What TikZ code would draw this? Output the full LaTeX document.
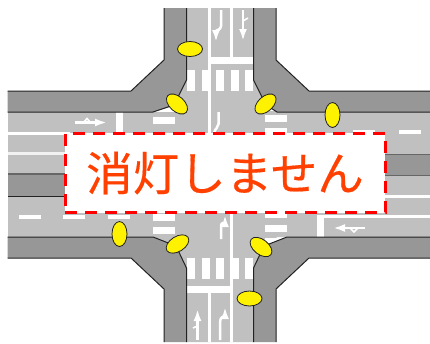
\documentclass[tikz,border=0pt]{standalone}
\usepackage{fontspec}
\usetikzlibrary{
	arrows.meta,
	shapes.geometric
}
\newfontfamily\cjk[FakeBold=0.35]{Noto Sans CJK JP}
\definecolor{roadgray}{HTML}{C0C0C0}
\definecolor{walkgray}{HTML}{979797}
\definecolor{edgegray}{HTML}{222222}
\definecolor{msgred}{HTML}{FF4000}

\begin{document}
\begin{tikzpicture}[
	x=1pt, y=-1pt,
	>={Latex[length=12pt, width=8pt]},
	walk/.style={fill=walkgray},
	curb/.style={draw=edgegray, line width=1pt},
	paint/.style={draw=white, line width=3pt},
	arrowline/.style={draw=white, line width=2.5pt},
	bar/.style={fill=white},
	lamp/.style={ellipse, draw=edgegray, line width=.8pt, fill=yellow, inner sep=0,
		minimum width=25pt, minimum height=15pt}
]
	\useasboundingbox (0,0) rectangle (430,343);

	% road
	\fill[roadgray] (186.5,8) -- (186.5,80) -- (153,112) -- (8,112) -- (8,237) -- (153,237)
		-- (186.5,268) -- (186.5,342) -- (253.5,342) -- (253.5,268) -- (277,237) -- (430,237)
		-- (430,112) -- (277,112) -- (253.5,80) -- (253.5,8) -- cycle;

	% median
	\fill[walk] (8,174) rectangle (70,196);
	\draw[curb, draw=gray!80!black, line width=1.4pt] (8,174) -- (70,174);
	\draw[curb] (8,196) -- (70,196);
	\fill[walk] (380,154) rectangle (430,175);
	\draw[curb, draw=gray!80!black] (380,154) -- (430,154);
	\draw[curb, draw=gray!80!black] (380,175) -- (430,175);

	% lane lines
	\draw[paint] (8,133) -- (70,133);
	\draw[paint, draw=white!90!gray] (8,153) -- (70,153);
	\draw[paint] (380,196) -- (430,196);
	\draw[paint] (317,216) -- (430,216);
	\draw[paint, line width=7pt] (119.5,112) -- (119.5,134);
	\draw[paint, line width=7pt] (320.5,215) -- (320.5,237);
	\draw[paint] (209,8) -- (209,135);
	\draw[paint] (231.5,8) -- (231.5,58);
	\draw[paint, line width=7pt] (207.5,60.5) -- (253.5,60.5);
	\draw[paint] (231.5,210) -- (231.5,342);
	\draw[paint, line width=7pt] (186.5,289.5) -- (233,289.5);
	\draw[paint] (209,290) -- (209,342);

	% crosswalks
	\foreach \x in {187,201.5,216,230.5,245} {
		\fill[bar] (\x,70) rectangle ++(8,21);
		\fill[bar] (\x,258) rectangle ++(8,21);
	}
	\foreach \y in {105,117} \fill[bar] (153,\y) rectangle ++(22,7);
	\foreach \y in {214,227} \fill[bar] (153,\y) rectangle ++(22,7);
	\foreach \y in {104,115,128} \fill[bar] (265,\y) rectangle ++(22,7);
	\foreach \y in {211,225,238} \fill[bar] (265,\y) rectangle ++(22,7);

	% dashes
	\foreach \x in {19,63,108} \fill[bar] (\x,215) rectangle ++(22,3.5);
	\foreach \x in {353,399} \fill[bar] (\x,130) rectangle ++(22,3.5);

	% arrows
	\draw[arrowline, ->] (75,122.5) -- (107,122.5);
	\draw[arrowline, line width=1.6pt] (84,122) -- (87,118.5) -- (90,122);
	\draw[arrowline, ->] (365,228) -- (333,228);
	\draw[arrowline, line width=1.6pt] (350,228) -- (354,232) -- (358,228);
	\draw[arrowline, ->] (221,10) -- (221,26) .. controls (221,30) and (216,30) .. (216,42);
	\draw[arrowline, ->] (243,10) -- (243,41);
	\draw[arrowline, line width=1.6pt] (243,21) -- (248,18);
	\draw[arrowline] (218.5,112) -- (218.5,124) .. controls (218.5,128) and (215,128) .. (214,133);
	\draw[arrowline, ->] (197.5,340) -- (197.5,309);
	\draw[arrowline, line width=1.6pt] (197.5,326) -- (193,328);
	\draw[arrowline, ->] (220,340) -- (220,322) .. controls (220,316) and (225,316) .. (225,307);
	\draw[arrowline, ->] (221,239) -- (221,226) .. controls (221,222) and (225,222) .. (225,215);

	% sidewalks
	\fill[walk] (7.5,91) -- (131,91) -- (164,60) -- (164,8) -- (186.5,8) -- (186.5,80)
		-- (174,105) -- (153,112) -- (7.5,112) -- cycle;
	\draw[curb] (7.5,91) -- (131,91) -- (164,60) -- (164,8);
	\draw[curb] (186.5,8) -- (186.5,80) -- (174,105) -- (153,112) -- (7.5,112);
	\fill[walk] (430,91) -- (309,91) -- (276,60) -- (276,8) -- (253.5,8) -- (253.5,80)
		-- (266,105) -- (277,112) -- (430,112) -- cycle;
	\draw[curb] (430,91) -- (309,91) -- (276,60) -- (276,8);
	\draw[curb] (253.5,8) -- (253.5,80) -- (266,105) -- (277,112) -- (430,112);
	\fill[walk] (7.5,258) -- (131,258) -- (164,289) -- (164,342) -- (186.5,342) -- (186.5,268)
		-- (176,246) -- (153,237) -- (7.5,237) -- cycle;
	\draw[curb] (7.5,258) -- (131,258) -- (164,289) -- (164,342);
	\draw[curb] (186.5,342) -- (186.5,268) -- (176,246) -- (153,237) -- (7.5,237);
	\fill[walk] (430,258) -- (309,258) -- (276,289) -- (276,342) -- (253.5,342) -- (253.5,268)
		-- (264,246) -- (287,237) -- (430,237) -- cycle;
	\draw[curb] (430,258) -- (309,258) -- (276,289) -- (276,342);
	\draw[curb] (253.5,342) -- (253.5,268) -- (264,246) -- (287,237) -- (430,237);

	% lamps
	\node(lampN)[lamp] at (190,49) {};
	\node(lampNW)[lamp, rotate=-42] at (177,104) {};
	\node(lampNE)[lamp, rotate=42] at (265.5,104) {};
	\node(lampE)[lamp, rotate=90] at (332.5,115) {};
	\node(lampW)[lamp, rotate=90] at (119.5,234) {};
	\node(lampSW)[lamp, rotate=32] at (177.5,244) {};
	\node(lampSE)[lamp, rotate=-38] at (261,247) {};
	\node(lampS)[lamp] at (249.5,298.5) {};

	% message
	\node(msg)[draw=red, fill=white, line width=3pt, dash pattern=on 12pt off 8pt, inner sep=0,
		minimum width=320pt, minimum height=79.5pt, text=msgred]
		at (225,173) {\raisebox{-2pt}{\cjk\fontsize{46.5}{47}\selectfont 消灯しません}};
\end{tikzpicture}
\end{document}
